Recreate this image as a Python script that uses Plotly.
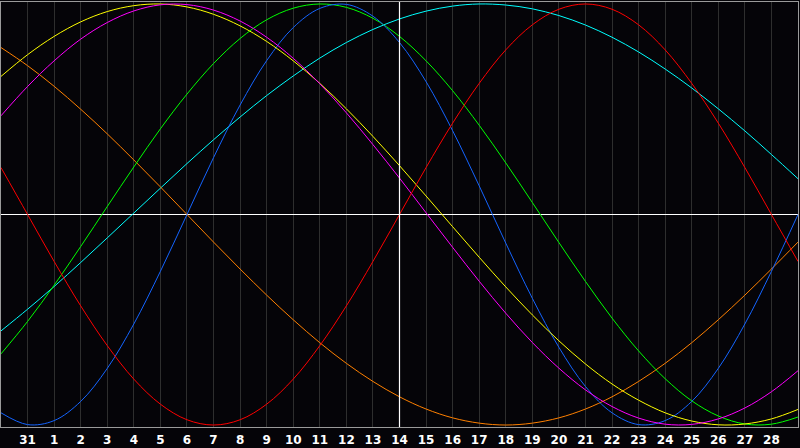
import plotly.graph_objects as go

# day index across the chart (0 = left edge, 30 = right edge)
days = list(range(31))
day_labels = ['31'] + [str(d) for d in range(1, 29)]
label_pos = list(range(1, 30))

red = [0.223, 0.0, -0.223, -0.434, -0.623, -0.782, -0.901, -0.975, -1.0, -0.975, -0.901,
       -0.782, -0.623, -0.434, -0.223, 0.0, 0.223, 0.434, 0.623, 0.782, 0.901, 0.975,
       1.0, 0.975, 0.901, 0.782, 0.623, 0.434, 0.223, 0.0, -0.223]
blue = [-0.942, -0.998, -0.979, -0.888, -0.731, -0.520, -0.270, 0.0, 0.270, 0.520, 0.731,
        0.888, 0.979, 0.998, 0.942, 0.817, 0.631, 0.398, 0.136, -0.136, -0.398, -0.631,
        -0.817, -0.942, -0.998, -0.979, -0.888, -0.731, -0.520, -0.270, 0.0]
green = [-0.662, -0.508, -0.336, -0.152, 0.038, 0.226, 0.407, 0.572, 0.717, 0.836, 0.925,
         0.980, 1.0, 0.984, 0.932, 0.846, 0.730, 0.588, 0.424, 0.245, 0.057, -0.133,
         -0.318, -0.492, -0.648, -0.780, -0.885, -0.957, -0.995, -0.996, -0.962]
cyan = [-0.553, -0.450, -0.342, -0.228, -0.111, 0.007, 0.125, 0.242, 0.355, 0.463, 0.565,
        0.658, 0.743, 0.817, 0.879, 0.929, 0.966, 0.990, 1.0, 0.995, 0.977, 0.945,
        0.900, 0.842, 0.772, 0.691, 0.601, 0.502, 0.397, 0.285, 0.170]
magenta = [0.469, 0.608, 0.730, 0.833, 0.912, 0.967, 0.996, 0.997, 0.971, 0.919, 0.842,
           0.742, 0.621, 0.483, 0.332, 0.173, 0.008, -0.156, -0.317, -0.469, -0.608, -0.730,
           -0.833, -0.912, -0.967, -0.996, -0.997, -0.971, -0.919, -0.842, -0.742]
yellow = [0.656, 0.759, 0.846, 0.915, 0.964, 0.992, 1.0, 0.986, 0.951, 0.896, 0.822,
          0.730, 0.623, 0.502, 0.371, 0.232, 0.088, -0.058, -0.203, -0.344, -0.477, -0.600,
          -0.710, -0.805, -0.882, -0.942, -0.981, -0.999, -0.995, -0.971, -0.926]
orange = [0.793, 0.707, 0.609, 0.500, 0.383, 0.259, 0.131, 0.0, -0.131, -0.259, -0.383,
          -0.500, -0.609, -0.707, -0.793, -0.866, -0.924, -0.966, -0.991, -1.0, -0.991, -0.966,
          -0.924, -0.866, -0.793, -0.707, -0.609, -0.500, -0.383, -0.259, -0.131]

series = [
    (cyan, '#00ffff'),
    (orange, '#ff8000'),
    (green, '#00ff00'),
    (blue, '#1464ff'),
    (yellow, '#ffff00'),
    (magenta, '#ff00ff'),
    (red, '#ff0000'),
]

fig = go.Figure()
for vals, col in series:
    fig.add_trace(go.Scatter(x=days, y=vals, mode='lines',
                             line=dict(color=col, width=1, shape='spline', smoothing=1.0),
                             hoverinfo='skip'))

# today marker
fig.add_shape(type='line', x0=15, x1=15, y0=0, y1=1, xref='x', yref='paper',
              line=dict(color='white', width=1.2))

fig.update_layout(
    width=800, height=448,
    margin=dict(l=1, r=1, t=1, b=20),
    paper_bgcolor='#050408',
    plot_bgcolor='#050408',
    showlegend=False,
    xaxis=dict(range=[0, 30], tickvals=label_pos, ticktext=day_labels,
               showgrid=True, gridcolor='#2e2e2e', gridwidth=1,
               zeroline=False, showline=True, linecolor='#9a9a9a', mirror=True,
               ticks='', ticklabelstandoff=2,
               tickfont=dict(family='DejaVu Sans', size=12, color='white', weight='bold')),
    yaxis=dict(range=[-1.0094, 1.0094], showticklabels=False, showgrid=False,
               zeroline=True, zerolinecolor='white', zerolinewidth=1.2,
               showline=True, linecolor='#9a9a9a', mirror=True),
)

fig.write_html("out.html", config={'displayModeBar': False},
               post_script="document.body.style.margin='0px';")
